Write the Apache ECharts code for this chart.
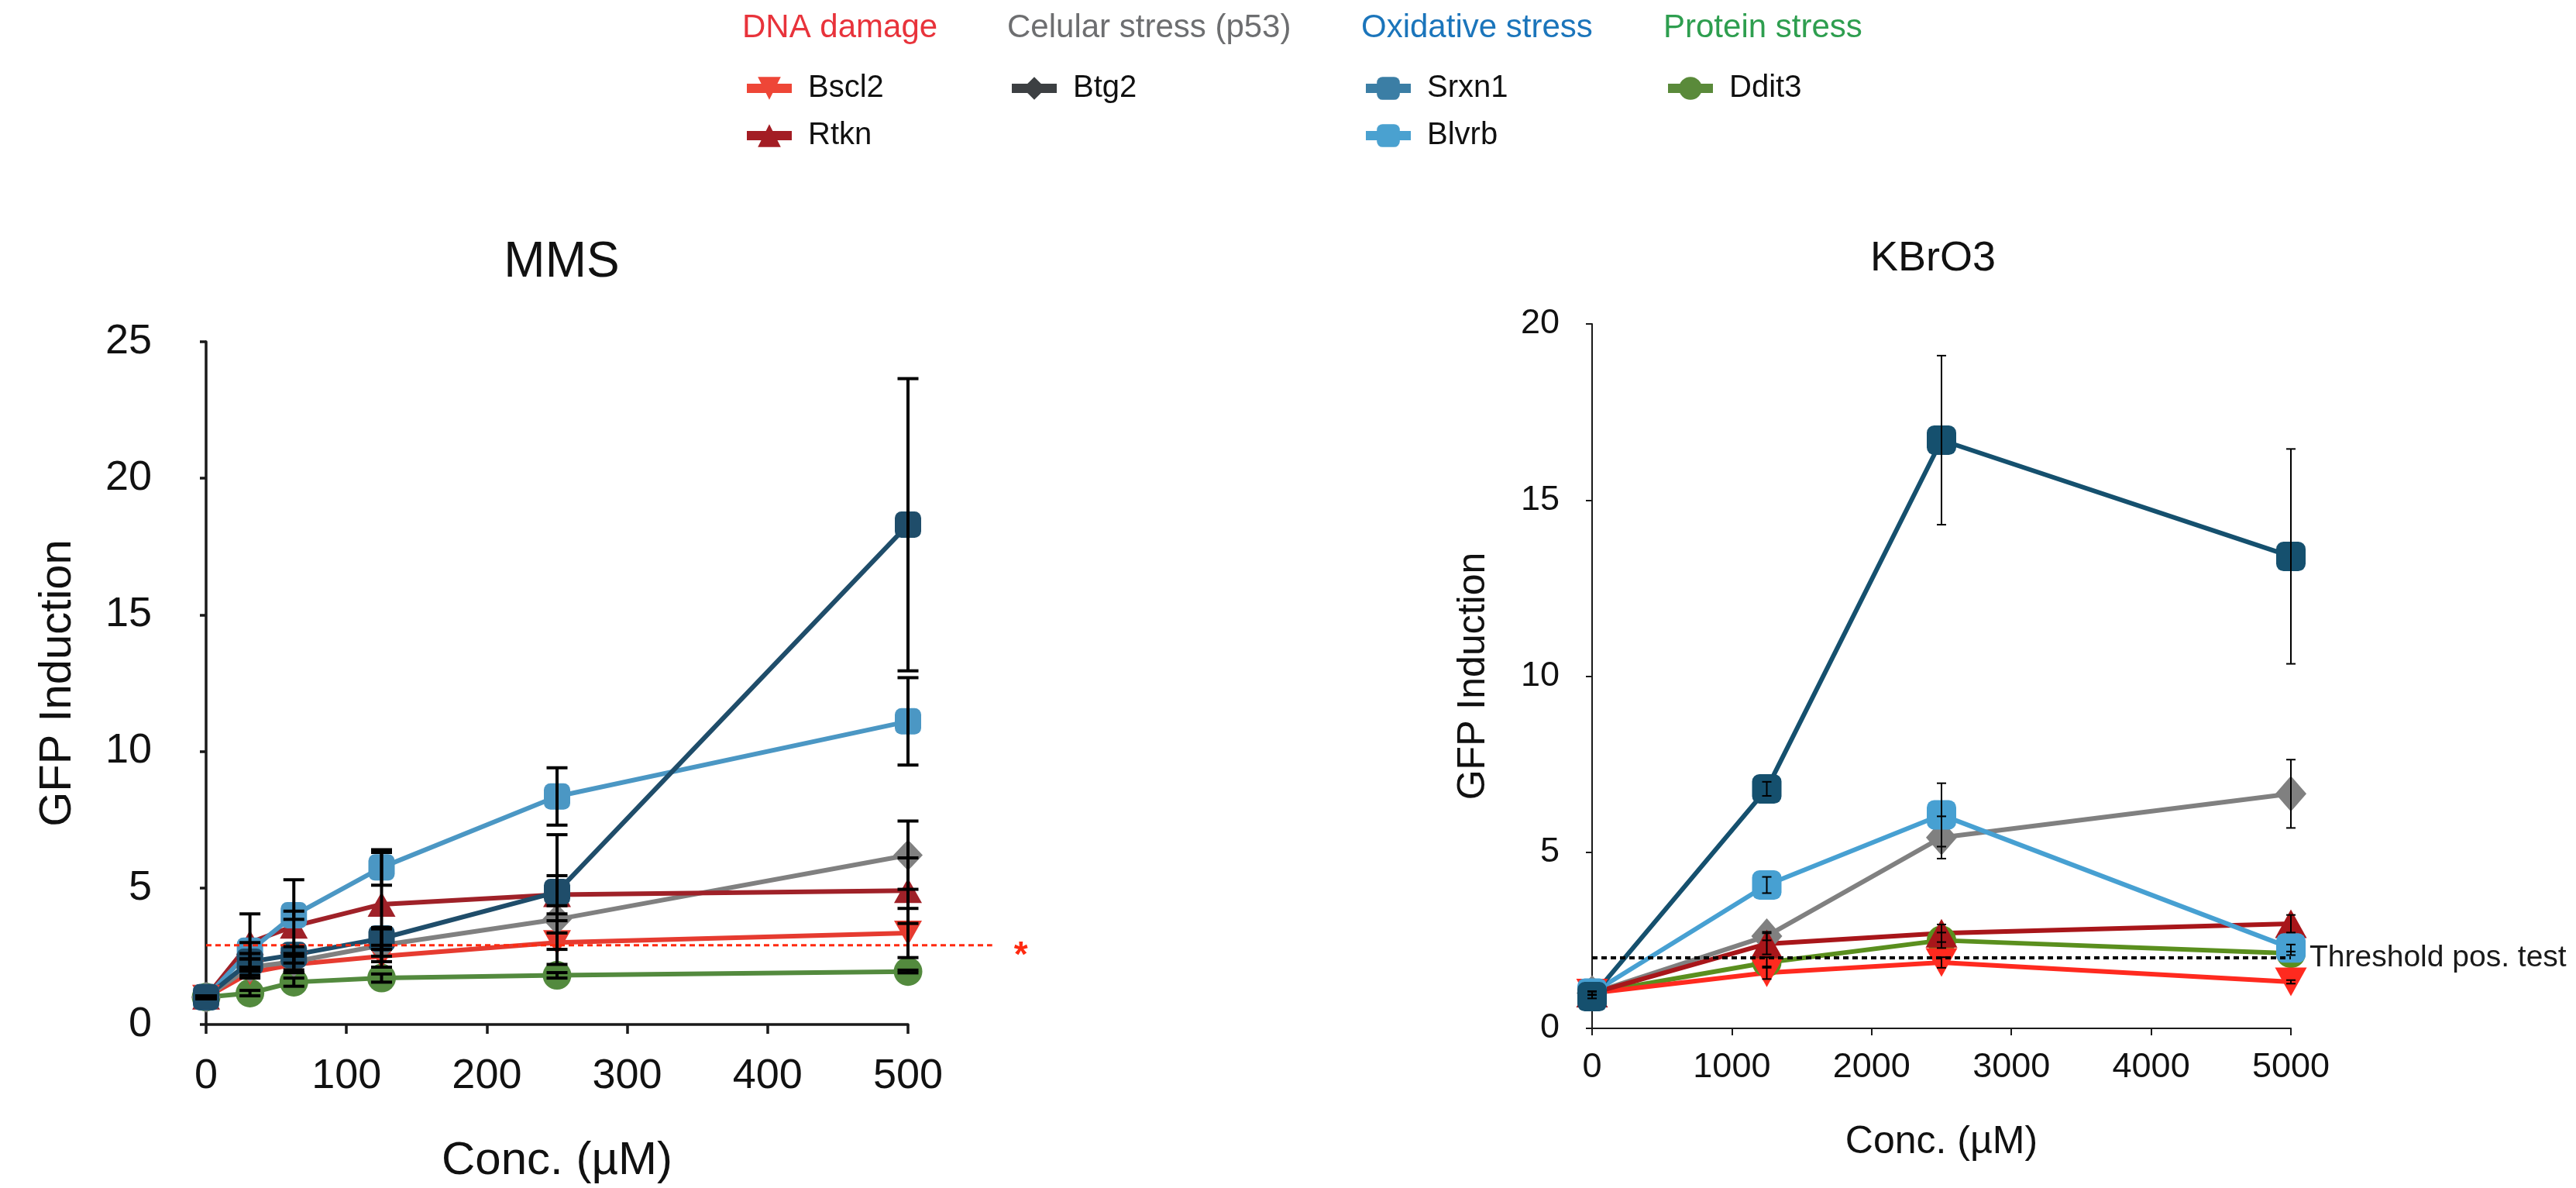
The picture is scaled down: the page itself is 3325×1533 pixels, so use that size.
<!DOCTYPE html>
<html><head><meta charset="utf-8">
<script src="https://cdn.jsdelivr.net/npm/echarts@6/dist/echarts.min.js"></script>
<style>html,body{margin:0;padding:0;background:#fff}#c{width:3325px;height:1533px}</style>
</head><body><div id="c"></div>
<script>
// ---------- DATA ----------
const genes = ['Bscl2', 'Rtkn', 'Btg2', 'Srxn1', 'Blvrb', 'Ddit3'];
const groupTitles = ['DNA damage', 'Celular stress (p53)', 'Oxidative stress', 'Protein stress'];
const groupMembers = [['Bscl2', 'Rtkn'], ['Btg2'], ['Srxn1', 'Blvrb'], ['Ddit3']];

// MMS (µM)
const mmsConc = [0, 31.25, 62.5, 125, 250, 500];
const mmsXTicks = [0, 100, 200, 300, 400, 500];
const mmsYTicks = [0, 5, 10, 15, 20, 25];
const mmsBscl2 = [1.0, 1.9, 2.2, 2.5, 3.0, 3.35];
const mmsRtkn  = [1.0, 3.0, 3.6, 4.4, 4.75, 4.9];
const mmsBtg2  = [1.0, 2.1, 2.3, 2.9, 3.85, 6.2];
const mmsSrxn1 = [1.0, 2.3, 2.55, 3.15, 4.85, 18.3];
const mmsBlvrb = [1.0, 2.7, 4.0, 5.75, 8.35, 11.1];
const mmsDdit3 = [1.0, 1.15, 1.55, 1.7, 1.8, 1.94];
const mmsSdBscl2 = [0.05, 0.2, 0.3, 0.4, 0.8, 0.9];
const mmsSdRtkn  = [0.05, 1.05, 1.7, 1.9, 0.7, 1.2];
const mmsSdBtg2  = [0.05, 0.3, 0.3, 0.6, 0.5, 1.25];
const mmsSdSrxn1 = [0.05, 0.3, 0.3, 0.4, 2.1, 5.35];
const mmsSdBlvrb = [0.05, 0.3, 0.15, 0.65, 1.05, 1.6];
const mmsSdDdit3 = [0.05, 0.1, 0.15, 0.15, 0.1, 0.05];
const mmsThreshold = 2.9;
const mmsThresholdEnd = 560;   // dotted line runs past the last dose

// KBrO3 (µM)
const kbrConc = [0, 1250, 2500, 5000];
const kbrXTicks = [0, 1000, 2000, 3000, 4000, 5000];
const kbrYTicks = [0, 5, 10, 15, 20];
const kbrBscl2 = [1.0, 1.58, 1.87, 1.32];
const kbrRtkn  = [1.0, 2.4, 2.7, 2.97];
const kbrBtg2  = [1.0, 2.62, 5.42, 6.66];
const kbrSrxn1 = [0.9, 6.8, 16.7, 13.4];
const kbrBlvrb = [1.0, 4.07, 6.06, 2.28];
const kbrDdit3 = [1.0, 1.87, 2.5, 2.13];
const kbrSdBscl2 = [0.05, 0.18, 0.15, 0.05];
const kbrSdRtkn  = [0.05, 0.3, 0.25, 0.25];
const kbrSdBtg2  = [0.05, 0.12, 0.6, 0.97];
const kbrSdSrxn1 = [0.05, 0.2, 2.4, 3.05];
const kbrSdBlvrb = [0.05, 0.23, 0.9, 0.1];
const kbrSdDdit3 = [0.05, 0.15, 0.22, 0.05];
const kbrThreshold = 2.0;
const kbrThresholdLabel = 'Threshold pos. test';

// ---------- STYLE ----------
const FONT = 'Liberation Sans';
const groupColors = ['#e8333b', '#6d6e70', '#1b75bb', '#2e9e4f'];
const groupLeft = [958, 1300, 1757, 2147];
const legendColors = {Bscl2:'#ee4637', Rtkn:'#a31d24', Btg2:'#3c3f42', Srxn1:'#3b7ea5', Blvrb:'#4aa1d0', Ddit3:'#5a8a3a'};
const mmsColors = {Bscl2:'#e63b30', Rtkn:'#9f2128', Btg2:'#808080', Srxn1:'#1f4d6a', Blvrb:'#4b97c4', Ddit3:'#538a3e'};
const kbrColors = {Bscl2:'#ff2a1f', Rtkn:'#a8161a', Btg2:'#808080', Srxn1:'#15506e', Blvrb:'#47a0d2', Ddit3:'#5a8f1e'};
const symbols = {Bscl2:'triangle', Rtkn:'triangle', Btg2:'diamond', Srxn1:'roundRect', Blvrb:'roundRect', Ddit3:'circle'};
const rotations = {Bscl2:180, Rtkn:0, Btg2:0, Srxn1:0, Blvrb:0, Ddit3:0};

const mmsVals = {Bscl2:mmsBscl2, Rtkn:mmsRtkn, Btg2:mmsBtg2, Srxn1:mmsSrxn1, Blvrb:mmsBlvrb, Ddit3:mmsDdit3};
const mmsSds  = {Bscl2:mmsSdBscl2, Rtkn:mmsSdRtkn, Btg2:mmsSdBtg2, Srxn1:mmsSdSrxn1, Blvrb:mmsSdBlvrb, Ddit3:mmsSdDdit3};
const kbrVals = {Bscl2:kbrBscl2, Rtkn:kbrRtkn, Btg2:kbrBtg2, Srxn1:kbrSrxn1, Blvrb:kbrBlvrb, Ddit3:kbrDdit3};
const kbrSds  = {Bscl2:kbrSdBscl2, Rtkn:kbrSdRtkn, Btg2:kbrSdBtg2, Srxn1:kbrSdSrxn1, Blvrb:kbrSdBlvrb, Ddit3:kbrSdDdit3};

function errRender(capW, lw) {
  return function (params, api) {
    const x = api.value(0), lo = api.value(1), hi = api.value(2);
    const a = api.coord([x, hi]), b = api.coord([x, lo]);
    const st = {stroke: '#000', lineWidth: lw};
    return {type: 'group', children: [
      {type: 'line', shape: {x1: a[0], y1: a[1], x2: b[0], y2: b[1]}, style: st},
      {type: 'line', shape: {x1: a[0] - capW / 2, y1: a[1], x2: a[0] + capW / 2, y2: a[1]}, style: st},
      {type: 'line', shape: {x1: b[0] - capW / 2, y1: b[1], x2: b[0] + capW / 2, y2: b[1]}, style: st}
    ]};
  };
}

function buildSeries(idx, conc, vals, sds, colors, cfg) {
  const out = [];
  const order = ['Ddit3', 'Bscl2', 'Btg2', 'Rtkn', 'Blvrb', 'Srxn1'];
  order.forEach(g => {
    out.push({
      type: 'line', name: g, xAxisIndex: idx, yAxisIndex: idx,
      data: conc.map((c, i) => [c, vals[g][i]]),
      symbol: symbols[g], symbolRotate: rotations[g],
      symbolSize: cfg.sizes[g],
      lineStyle: {color: colors[g], width: cfg.lw},
      itemStyle: {color: colors[g]},
      z: 3
    });
  });
  order.forEach(g => {
    out.push({
      type: 'custom', name: g + ' err', xAxisIndex: idx, yAxisIndex: idx,
      data: conc.map((c, i) => [c, vals[g][i] - sds[g][i], vals[g][i] + sds[g][i]]),
      encode: {x: 0, y: [1, 2]},
      renderItem: errRender(cfg.cap, cfg.elw),
      z: 5
    });
  });
  return out;
}

function axisBase(fs, lw, tickLen, margin) {
  return {
    type: 'value', splitLine: {show: false},
    axisLine: {show: true, onZero: false, lineStyle: {color: '#1a1a1a', width: lw}},
    axisTick: {show: true, length: tickLen, lineStyle: {color: '#1a1a1a', width: lw}},
    axisLabel: {fontSize: fs, color: '#111', fontFamily: FONT, margin: margin, formatter: v => String(v)}
  };
}

const titles = [
  {text: 'MMS', left: 720, top: 302, textAlign: 'center', textStyle: {fontSize: 64, fontWeight: 'normal', color: '#111', fontFamily: FONT}},
  {text: 'KBrO3', left: 2490, top: 302, textAlign: 'center', textStyle: {fontSize: 54, fontWeight: 'normal', color: '#111', fontFamily: FONT}}
];
groupTitles.forEach((t, i) => titles.push({
  text: t, left: groupLeft[i], top: 15, padding: 0,
  textStyle: {fontSize: 42, fontWeight: 'normal', color: groupColors[i], fontFamily: FONT}
}));

const legends = groupMembers.map((members, i) => ({
  left: groupLeft[i], top: 94, orient: 'vertical', padding: 0,
  itemWidth: 58, itemHeight: 37, itemGap: 21, selectedMode: false,
  textStyle: {fontSize: 40, color: '#111', fontFamily: FONT, padding: [0, 0, 0, 16]},
  lineStyle: {width: 12},
  data: members.map(m => ({name: m, itemStyle: {color: legendColors[m]}, lineStyle: {color: legendColors[m], width: 12}}))
}));

// plot-area geometry
const mmsGrid = {left: 266, right: 3325 - 1172, top: 441, bottom: 211};
const kbrGrid = {left: 2055, right: 368, top: 418, bottom: 206};
// an invisible grid sharing the MMS scale, wide enough for the dotted threshold to run past 500 µM
const mmsPxPerUnit = (3325 - mmsGrid.right - mmsGrid.left) / (mmsXTicks[mmsXTicks.length - 1] - mmsXTicks[0]);
const overlayGrid = {left: mmsGrid.left, right: 3325 - (mmsGrid.left + mmsPxPerUnit * mmsThresholdEnd), top: mmsGrid.top, bottom: mmsGrid.bottom};

const mmsX = Object.assign(axisBase(54, 3.5, 12, 40), {
  gridIndex: 0, min: mmsXTicks[0], max: mmsXTicks[mmsXTicks.length - 1], interval: mmsXTicks[1] - mmsXTicks[0],
  name: 'Conc. (µM)', nameLocation: 'middle', nameGap: 146,
  nameTextStyle: {fontSize: 60, color: '#111', fontFamily: FONT}
});
const mmsY = Object.assign(axisBase(54, 3.5, 8, 70), {
  gridIndex: 0, min: mmsYTicks[0], max: mmsYTicks[mmsYTicks.length - 1], interval: mmsYTicks[1] - mmsYTicks[0],
  name: 'GFP Induction', nameLocation: 'middle', nameGap: 162, nameRotate: 90,
  nameTextStyle: {fontSize: 58, color: '#111', fontFamily: FONT}
});
const kbrX = Object.assign(axisBase(45, 2, 9, 28), {
  gridIndex: 1, min: kbrXTicks[0], max: kbrXTicks[kbrXTicks.length - 1], interval: kbrXTicks[1] - kbrXTicks[0],
  name: 'Conc. (µM)', nameLocation: 'middle', nameGap: 122,
  nameTextStyle: {fontSize: 50, color: '#111', fontFamily: FONT}
});
const kbrY = Object.assign(axisBase(45, 2, 8, 42), {
  gridIndex: 1, min: kbrYTicks[0], max: kbrYTicks[kbrYTicks.length - 1], interval: kbrYTicks[1] - kbrYTicks[0],
  name: 'GFP Induction', nameLocation: 'middle', nameGap: 128, nameRotate: 90,
  nameTextStyle: {fontSize: 50, color: '#111', fontFamily: FONT}
});
const ovX = {type: 'value', gridIndex: 2, min: 0, max: mmsThresholdEnd, show: false};
const ovY = {type: 'value', gridIndex: 2, min: mmsYTicks[0], max: mmsYTicks[mmsYTicks.length - 1], show: false};

const mmsSizes = {Bscl2: [36, 32], Rtkn: [36, 32], Btg2: [38, 40], Srxn1: 34, Blvrb: 34, Ddit3: 37};
const kbrSizes = {Bscl2: [41, 37], Rtkn: [41, 37], Btg2: [40, 46], Srxn1: 38, Blvrb: 38, Ddit3: 38};

const series = []
  .concat(buildSeries(0, mmsConc, mmsVals, mmsSds, mmsColors, {sizes: mmsSizes, lw: 6, cap: 27, elw: 4}))
  .concat(buildSeries(1, kbrConc, kbrVals, kbrSds, kbrColors, {sizes: kbrSizes, lw: 6, cap: 12, elw: 2}));

series.push({
  type: 'line', name: 'MMS threshold', xAxisIndex: 2, yAxisIndex: 2,
  data: [[0, mmsThreshold], [mmsThresholdEnd, mmsThreshold]], symbol: 'none',
  lineStyle: {color: '#ff2a10', width: 3, type: [7, 5]}, z: 4,
  endLabel: {show: true, formatter: '*', color: '#ff2a10', fontSize: 46, fontWeight: 'bold', fontFamily: FONT, distance: 28, offset: [0, 15]}
});
series.push({
  type: 'line', name: 'KBrO3 threshold', xAxisIndex: 1, yAxisIndex: 1,
  data: [[0, kbrThreshold], [kbrXTicks[kbrXTicks.length - 1], kbrThreshold]], symbol: 'none',
  lineStyle: {color: '#000', width: 4, type: [7, 5]}, z: 4,
  endLabel: {show: true, formatter: kbrThresholdLabel, color: '#1a1a1a', fontSize: 39, fontFamily: FONT, distance: 24}
});

const chart = echarts.init(document.getElementById('c'), null, {renderer: 'canvas'});
chart.setOption({
  animation: false,
  backgroundColor: '#fff',
  textStyle: {fontFamily: FONT},
  title: titles,
  legend: legends,
  grid: [mmsGrid, kbrGrid, overlayGrid],
  xAxis: [mmsX, kbrX, ovX],
  yAxis: [mmsY, kbrY, ovY],
  series: series
});
</script></body></html>
